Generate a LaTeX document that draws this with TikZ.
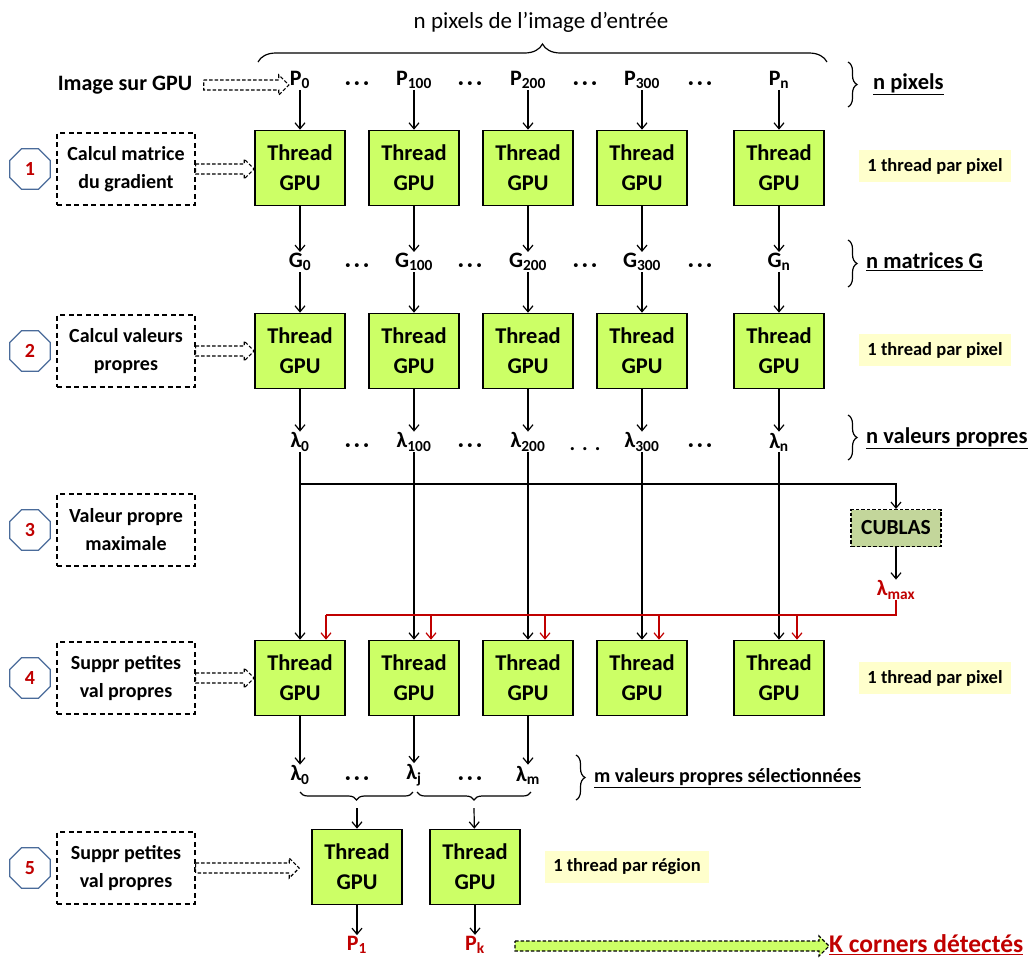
\documentclass[tikz,border=0pt]{standalone}
\usepackage{fontspec}
\setmainfont{Carlito}
\usetikzlibrary{shapes.geometric,decorations.pathreplacing,calc,arrows.meta}

\definecolor{thrgreen}{HTML}{CCFF66}
\definecolor{cubgreen}{HTML}{C3D69B}
\definecolor{notebg}{HTML}{FFFFCC}
\definecolor{darkred}{HTML}{C00000}
\definecolor{octblue}{HTML}{4A6B9A}

\tikzset{
  thr/.style={draw, line width=1.6pt, fill=thrgreen, minimum width=90pt, minimum height=75pt,
    align=center, inner sep=0pt, font=\bfseries\fontsize{22.5}{30}\selectfont},
  lbl/.style={font=\bfseries\fontsize{22}{24}\selectfont, inner sep=1pt},
  dots/.style={font=\bfseries\fontsize{21}{22}\selectfont, inner sep=0pt},
  stepbox/.style={draw, dash pattern=on 5pt off 3.5pt, line width=1.3pt, minimum width=138pt,
    minimum height=72pt, align=center, font=\bfseries\fontsize{20}{28}\selectfont},
  octa/.style={regular polygon, regular polygon sides=8, draw=octblue, line width=1.3pt,
    minimum size=44pt, inner sep=0pt, text=darkred, font=\bfseries\fontsize{20}{22}\selectfont},
  note/.style={fill=notebg, font=\bfseries\fontsize{18.5}{20}\selectfont, inner xsep=8pt,
    minimum height=32pt},
  side/.style={font=\bfseries\fontsize{22.5}{24}\selectfont, anchor=west, inner sep=0pt},
  arr/.style={line width=1.2pt, -{Straight Barb[length=6pt,width=10pt]}},
  redarr/.style={arr, draw=darkred},
  brc/.style={decorate, line width=1.2pt, decoration={brace, amplitude=#1}},
  brc/.default=9pt
}

% outlined double arrow drawn from the first point to the tip
\newcommand\hollowarrow[3]{%
  \filldraw[dash pattern=on 3.5pt off 2pt, line width=1.1pt, fill=#3, draw=black]
    let \p1=(#1), \p2=(#2) in
    (\x1,\y1+5pt) -- (\x2-10pt,\y1+5pt) -- (\x2-10pt,\y1+10pt) -- (\x2,\y1)
    -- (\x2-10pt,\y1-10pt) -- (\x2-10pt,\y1-5pt) -- (\x1,\y1-5pt) -- cycle;}

\begin{document}
\begin{tikzpicture}[x=1pt, y=-1pt]
\useasboundingbox (0,0) rectangle (1035,962);

% title and top brace
\node[font=\fontsize{23}{25}\selectfont] (title) at (541,22) {n pixels de l’image d’entrée};
\draw[brc=18pt] (258,62) -- (827,62);

% five columns of pixels, threads and results
\foreach \x/\s [count=\i from 0] in {300/0,414/100,528/200,642/300,779/n} {
  \node[lbl] (p\i) at (\x,80) {P\textsubscript{\s}};
  \node[thr] (ta\i) at (\x,168) {Thread\\GPU};
  \node[lbl] (g\i) at (\x,262) {G\textsubscript{\s}};
  \node[thr] (tb\i) at (\x,351) {Thread\\GPU};
  \node[lbl] (l\i) at (\x,442) {λ\textsubscript{\s}};
  \node[thr] (tc\i) at (\x,678) {Thread\\GPU};
  \draw[arr] (p\i) -- (ta\i);
  \draw[arr] (ta\i) -- (g\i);
  \draw[arr] (g\i) -- (tb\i);
  \draw[arr] (tb\i) -- (l\i);
  \draw[arr] (l\i) -- (tc\i);
}
\foreach \x in {357,470,585,700} {
  \node[dots] (dp\x) at (\x,86) {·\,·\,·};
  \node[dots] (dg\x) at (\x,268) {·\,·\,·};
}
\foreach \x in {357,470,700} \node[dots] (dl\x) at (\x,448) {·\,·\,·};
\node[dots] (dl585) at (585,449) {.\,\,.\,\,.};

% maximum eigenvalue via CUBLAS
\coordinate (hj) at (300,484);
\node[draw, dash pattern=on 3.5pt off 2pt, line width=1.1pt, fill=cubgreen, minimum width=90pt,
  minimum height=37pt, font=\bfseries\fontsize{21.5}{24}\selectfont] (cub) at (896,528) {CUBLAS};
\draw[arr] (hj) -| (cub);
\node[lbl, text=darkred] (lmax) at (896,590) {λ\textsubscript{max}};
\draw[arr] (cub) -- (lmax);
\coordinate (rj) at (326,615);
\draw[line width=1.2pt, darkred] (lmax.south) |- (rj);
\foreach \i/\dx in {0/26,1/17,2/17,3/17,4/18} {
  \coordinate (ra\i) at ($(tc\i.north)+(\dx,0)$);
  \draw[redarr] (ra\i |- rj) -- (ra\i);
}

% selected eigenvalues
\foreach \x/\s [count=\i from 0] in {300/0,414/j,528/m} {
  \node[lbl] (s\i) at (\x,775) {λ\textsubscript{\s}};
  \draw[arr] (tc\i) -- (s\i);
}
\node[dots] (ds1) at (357,781) {·\,·\,·};
\node[dots] (ds2) at (470,781) {·\,·\,·};
\draw[brc=8pt] (413,792) -- (300,792);
\draw[brc=8pt] (531,792) -- (417,792);
\coordinate (bt0) at (357,808);
\coordinate (bt1) at (474,808);

% one thread per region
\node[thr] (td0) at (357,867) {Thread\\GPU};
\node[thr] (td1) at (475,867) {Thread\\GPU};
\draw[arr] (bt0) -- (td0);
\draw[arr] (bt1) -- (td1);
\node[lbl, text=darkred] (o0) at (357,945) {P\textsubscript{1}};
\node[lbl, text=darkred] (o1) at (475,945) {P\textsubscript{k}};
\draw[arr] (td0) -- (o0);
\draw[arr] (td1) -- (o1);
\coordinate (ga) at (515,946);
\node[anchor=west, inner sep=0pt, text=darkred, font=\bfseries\fontsize{25.5}{27}\selectfont]
  (kc) at (829,945) {\underline{K corners détectés}};
\hollowarrow{ga}{kc.west}{thrgreen}

% steps on the left
\node[font=\bfseries\fontsize{22}{24}\selectfont] (img) at (125,85) {Image sur GPU};
\coordinate (imgout) at ($(img.east)+(8,0)$);
\hollowarrow{imgout}{p0.west}{white}
\foreach \y/\n/\t [count=\i] in {
    169/1/{Calcul matrice\\du gradient},
    351/2/{Calcul valeurs\\propres},
    530/3/{Valeur propre\\maximale},
    678/4/{Suppr petites\\val propres},
    868/5/{Suppr petites\\val propres}} {
  \node[octa] (oc\i) at (30,\y) {\n};
  \node[stepbox] (st\i) at (126,\y) {\t};
}
\hollowarrow{st1.east}{ta0.west}{white}
\hollowarrow{st2.east}{tb0.west}{white}
\hollowarrow{st4.east}{tc0.west}{white}
\coordinate (t5in) at ($(td0.west)+(-12,0)$);
\hollowarrow{st5.east}{t5in}{white}

% notes
\node[note] (n1) at (935,166) {1 thread par pixel};
\node[note] (n2) at (935,350) {1 thread par pixel};
\node[note] (n4) at (935,678) {1 thread par pixel};
\node[note] (n5) at (627,867) {1 thread par région};

% braces and counts on the right
\draw[brc] (848,62) -- (848,107);
\node[side] (cp) at (873,84) {\underline{n pixels}};
\draw[brc] (848,240) -- (848,287);
\node[side] (cg) at (866,262) {\underline{n matrices G}};
\draw[brc] (848,415) -- (848,460);
\node[side] (cl) at (866,438) {\underline{n valeurs propres}};
\draw[brc] (576,755) -- (576,800);
\node[side, font=\bfseries\fontsize{20}{22}\selectfont] (cs) at (594,778)
  {\underline{m valeurs propres sélectionnées}};
\end{tikzpicture}
\end{document}
